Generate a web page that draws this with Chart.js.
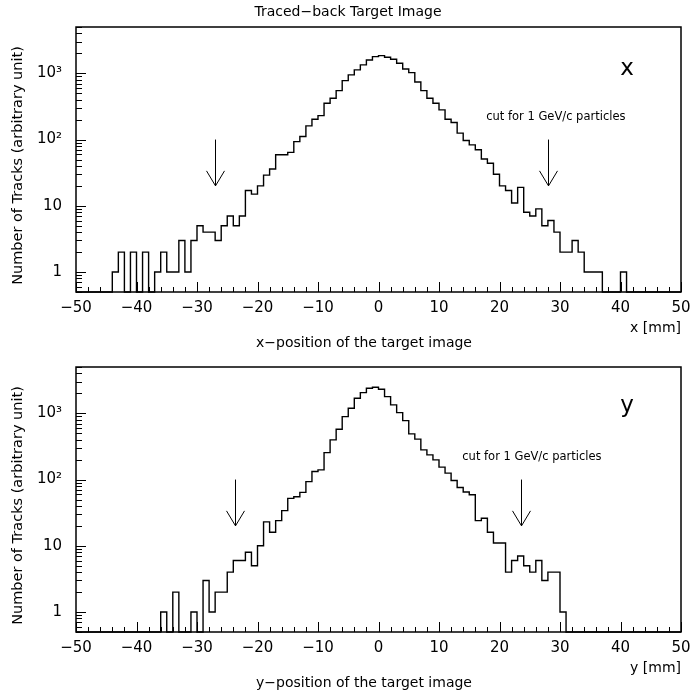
<!DOCTYPE html>
<html>
<head>
<meta charset="utf-8">
<title>Traced-back Target Image</title>
<script src="https://cdn.jsdelivr.net/npm/chart.js@4/dist/chart.umd.min.js"></script>
<style>
  html, body { margin: 0; padding: 0; background: #fff; }
  #wrap { position: relative; width: 690px; height: 692px; overflow: hidden; }
  canvas { position: absolute; left: 0; }
</style>
</head>
<body>
<div id="wrap">
  <canvas id="histX" width="690" height="352" style="top:0px"></canvas>
  <canvas id="histY" width="690" height="340" style="top:352px"></canvas>
</div>
<script>
// Histogram binning: 1 mm bins from -50 mm to +50 mm
const binStart = -50;
const binWidth = 1;

// Track counts per bin, x-position of the traced-back target image
const xCounts = [
  0, 0, 0, 0, 0, 0,
  1, 2, 0, 2, 0, 2, 0, 1, 2, 1,
  1, 3, 1, 3, 5, 4, 4, 3, 5, 7,
  5, 7, 17, 15, 20, 29, 36, 59, 59, 64,
  93, 111, 161, 203, 230, 354, 421, 548, 776, 946,
  1125, 1339, 1592, 1786, 1849, 1750, 1633, 1419, 1164, 1025,
  741, 548, 421, 354, 281, 203, 181, 125, 97, 83,
  70, 51, 44, 30, 20, 17, 11, 19, 8, 7,
  9, 5, 6, 4, 2, 2, 3, 2, 1, 1,
  1, 0, 0, 0, 1,
  0, 0, 0, 0, 0, 0, 0, 0, 0
];

// Track counts per bin, y-position of the traced-back target image
const yCounts = [
  0, 0, 0, 0, 0, 0, 0, 0, 0, 0, 0, 0, 0, 0,
  1, 0, 2, 0, 0, 1, 0, 3, 1, 2,
  2, 4, 6, 6, 8, 5, 10, 23, 16, 24,
  34, 52, 55, 64, 93, 132, 140, 255, 397, 575,
  891, 1194, 1690, 2052, 2389, 2477, 2312, 1786, 1340, 1025,
  776, 489, 407, 281, 236, 198, 154, 125, 97, 76,
  65, 59, 24, 26, 16, 11, 11, 4, 6, 7,
  5, 4, 6, 3, 4, 4, 1,
  0, 0, 0, 0, 0, 0, 0, 0, 0, 0, 0, 0, 0, 0, 0, 0, 0, 0, 0
];

// Axis ranges and tick labels
const xRange = [-50, 50];
const yRange = [0.5, 5000];
const xTickValues = [-50, -40, -30, -20, -10, 0, 10, 20, 30, 40, 50];
const yTickValues = [1, 10, 100, 1000];
const yTickLabels = ['1', '10', '10\u00B2', '10\u00B3'];

// Momentum cut positions (mm) marked with arrows, and the arrow span in counts
const xCutPositions = [-27, 28];
const yCutPositions = [-23.7, 23.6];
const arrowSpan = [100, 20];

const FONT = "'DejaVu Sans', 'Liberation Sans', sans-serif";
const INK = '#000';

function minusLabel(v) {
  return v < 0 ? '\u2212' + Math.abs(v) : String(v);
}

// Outline points for a step histogram (empty bins sit on the frame floor)
function stepPoints(counts) {
  const floor = yRange[0];
  const pts = counts.map((c, i) => ({ x: binStart + i * binWidth, y: c > 0 ? c : floor }));
  const last = counts[counts.length - 1];
  pts.push({ x: binStart + counts.length * binWidth, y: last > 0 ? last : floor });
  return pts;
}

// Frame, inward tick marks, cut arrows, annotations and axis captions
const panelDecor = {
  id: 'panelDecor',
  afterDraw(chart, args, o) {
    const { ctx, chartArea: a, scales: { x, y } } = chart;
    ctx.save();
    ctx.strokeStyle = INK;
    ctx.fillStyle = INK;

    ctx.lineWidth = 1;
    ctx.beginPath();
    for (let v = xRange[0]; v <= xRange[1]; v += 2) {
      const px = Math.round(x.getPixelForValue(v)) + 0.5;
      const len = v % 10 === 0 ? 10 : 5;
      ctx.moveTo(px, a.bottom);
      ctx.lineTo(px, a.bottom - len);
    }
    for (let d = -1; d <= 3; d++) {
      for (let k = 1; k <= 9; k++) {
        const v = k * Math.pow(10, d);
        if (v < yRange[0] || v > yRange[1]) continue;
        const py = Math.round(y.getPixelForValue(v)) + 0.5;
        ctx.moveTo(a.left, py);
        ctx.lineTo(a.left + (k === 1 ? 10 : 6), py);
      }
    }
    ctx.stroke();

    ctx.lineWidth = 1.5;
    ctx.strokeRect(a.left, a.top, a.right - a.left, a.bottom - a.top);

    // cut arrows
    ctx.lineWidth = 1;
    ctx.beginPath();
    for (const c of o.cuts) {
      const px = Math.round(x.getPixelForValue(c)) + 0.5;
      const yTop = y.getPixelForValue(arrowSpan[0]);
      const yTip = y.getPixelForValue(arrowSpan[1]);
      ctx.moveTo(px, yTop);
      ctx.lineTo(px, yTip);
      ctx.moveTo(px - 9, yTip - 15);
      ctx.lineTo(px, yTip);
      ctx.lineTo(px + 9, yTip - 15);
    }
    ctx.stroke();

    // cut note
    ctx.font = '11.5px ' + FONT;
    ctx.textAlign = 'left';
    ctx.textBaseline = 'middle';
    ctx.fillText(o.note.text, x.getPixelForValue(o.note.x), y.getPixelForValue(o.note.y));

    // coordinate tag in the upper right corner
    ctx.font = '23px ' + FONT;
    ctx.textAlign = 'center';
    ctx.textBaseline = 'alphabetic';
    ctx.fillText(o.tag, a.right - 54, a.top + o.tagBase);

    // panel title
    if (o.title) {
      ctx.font = '14px ' + FONT;
      ctx.textAlign = 'center';
      ctx.textBaseline = 'middle';
      ctx.fillText(o.title, 348, a.top - 15);
    }

    // unit label and caption of the horizontal axis
    ctx.font = '14px ' + FONT;
    ctx.textAlign = 'right';
    ctx.textBaseline = 'middle';
    ctx.fillText(o.unit, a.right, a.bottom + 36);
    ctx.textAlign = 'center';
    ctx.fillText(o.xTitle, 364, a.bottom + 51);

    // caption of the vertical axis
    ctx.font = '14.5px ' + FONT;
    ctx.translate(18, (a.top + a.bottom) / 2 + 6);
    ctx.rotate(-Math.PI / 2);
    ctx.fillText('Number of Tracks (arbitrary unit)', 0, 0);
    ctx.restore();
  }
};

function makePanel(canvasId, counts, cfg) {
  return new Chart(document.getElementById(canvasId), {
    type: 'line',
    data: {
      datasets: [{
        data: stepPoints(counts),
        stepped: 'before',
        borderColor: INK,
        borderWidth: 1.4,
        pointRadius: 0,
        fill: false,
        tension: 0,
        clip: 4
      }]
    },
    options: {
      responsive: false,
      maintainAspectRatio: false,
      animation: false,
      events: [],
      layout: { padding: { left: 0, right: 9, top: cfg.padTop, bottom: 0 } },
      plugins: {
        legend: { display: false },
        tooltip: { enabled: false },
        title: { display: false },
        panelDecor: cfg.decor
      },
      scales: {
        x: {
          type: 'linear',
          min: xRange[0],
          max: xRange[1],
          afterBuildTicks: (s) => { s.ticks = xTickValues.map(v => ({ value: v })); },
          afterFit: (s) => { s.height = 60; s.paddingLeft = 0; s.paddingRight = 0; },
          grid: { display: false, drawTicks: false },
          border: { display: false },
          ticks: {
            autoSkip: false,
            maxRotation: 0,
            padding: 7,
            color: INK,
            font: { family: FONT, size: 15 },
            callback: (v) => minusLabel(v)
          }
        },
        y: {
          type: 'logarithmic',
          min: yRange[0],
          max: yRange[1],
          afterBuildTicks: (s) => { s.ticks = yTickValues.map(v => ({ value: v })); },
          afterFit: (s) => { s.width = 76; s.paddingTop = 0; s.paddingBottom = 0; },
          grid: { display: false, drawTicks: false },
          border: { display: false },
          ticks: {
            autoSkip: false,
            padding: 14,
            color: INK,
            font: { family: FONT, size: 15 },
            callback: (v) => yTickLabels[yTickValues.indexOf(v)]
          }
        }
      }
    },
    plugins: [panelDecor]
  });
}

makePanel('histX', xCounts, {
  padTop: 27,
  decor: {
    title: 'Traced\u2212back Target Image',
    cuts: xCutPositions,
    note: { x: 17.8, y: 220, text: 'cut for 1 GeV/c particles' },
    tag: 'x',
    tagBase: 48,
    unit: 'x [mm]',
    xTitle: 'x\u2212position of the target image'
  }
});

makePanel('histY', yCounts, {
  padTop: 15,
  decor: {
    title: null,
    cuts: yCutPositions,
    note: { x: 13.85, y: 220, text: 'cut for 1 GeV/c particles' },
    tag: 'y',
    tagBase: 45,
    unit: 'y [mm]',
    xTitle: 'y\u2212position of the target image'
  }
});
</script>
</body>
</html>
